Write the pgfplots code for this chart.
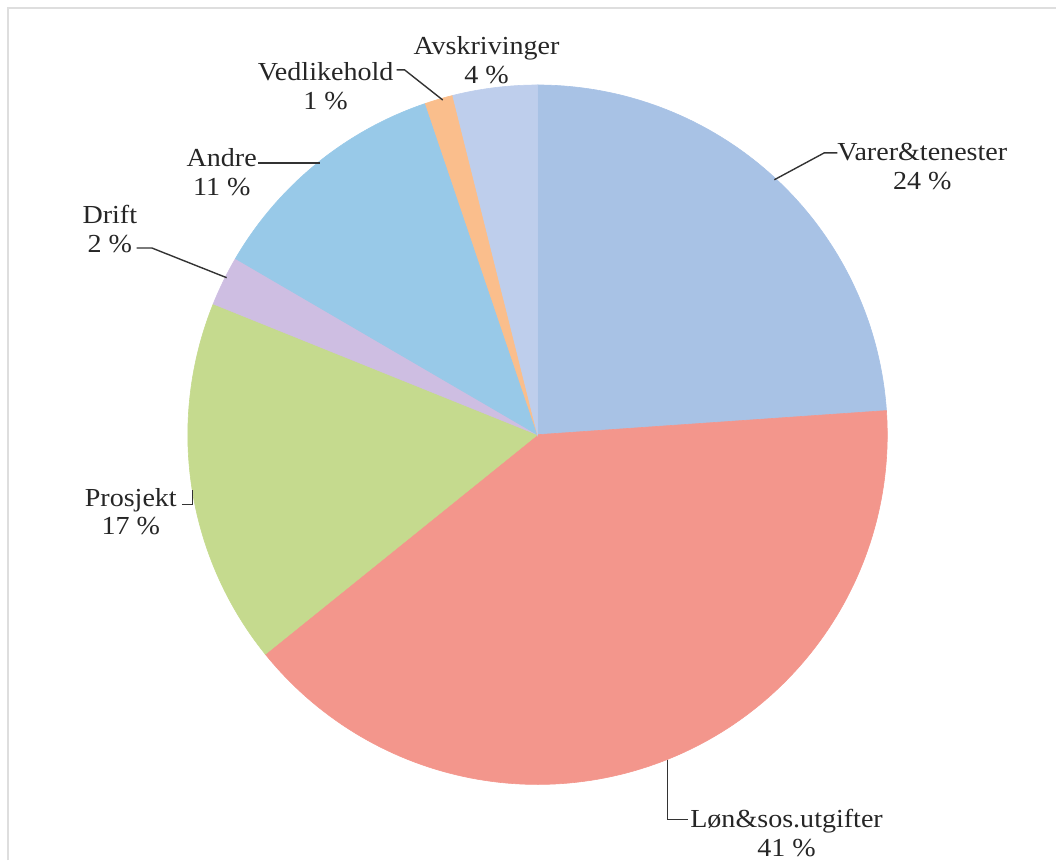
\documentclass[border=0pt]{standalone}
\usepackage{fontspec}
\setmainfont{Liberation Serif}[FakeStretch=1.08]
\usepackage{pgfplots}
\pgfplotsset{compat=1.18}
\definecolor{cVarer}{RGB}{168,194,229}
\definecolor{cLon}{RGB}{243,150,140}
\definecolor{cProsjekt}{RGB}{197,218,142}
\definecolor{cDrift}{RGB}{206,190,226}
\definecolor{cAndre}{RGB}{152,201,232}
\definecolor{cVedl}{RGB}{250,190,140}
\definecolor{cAvskr}{RGB}{190,206,236}
\definecolor{frame}{RGB}{222,222,222}
\tikzset{lbl/.style={font=\fontsize{13}{14.5}\selectfont, text=black!85, align=center, inner sep=0pt}}
% shares in percent, clockwise from 12 o'clock
\def\pVarer{23.9}
\def\pLon{40.3}
\def\pProsjekt{16.9}
\def\pDrift{2.3}
\def\pAndre{11.4}
\def\pVedl{1.3}
\def\pAvskr{3.9}
\pgfmathsetmacro\aA{90-3.6*\pVarer}
\pgfmathsetmacro\aB{\aA-3.6*\pLon}
\pgfmathsetmacro\aC{\aB-3.6*\pProsjekt}
\pgfmathsetmacro\aD{\aC-3.6*\pDrift}
\pgfmathsetmacro\aE{\aD-3.6*\pAndre}
\pgfmathsetmacro\aF{\aE-3.6*\pVedl}
\pgfmathsetmacro\aG{\aF-3.6*\pAvskr}
\begin{document}
\begin{tikzpicture}
\begin{axis}[
  scale only axis, width=528.5pt, height=430.5pt,
  xmin=-1.537, xmax=1.483, ymin=-1.217, ymax=1.243,
  hide axis, clip=false,
]
\path (rel axis cs:0,0) rectangle (rel axis cs:1,1);
\addplot[frame, line width=0.8pt] coordinates {(-1.514,-1.217) (-1.514,1.22) (1.483,1.22)};
\addplot[fill=cVarer, draw=cVarer, line width=0.3pt, domain=\aA:90, samples=80, variable=\t] ({cos(\t)},{sin(\t)}) -- (axis cs:0,0) -- cycle;
\addplot[fill=cLon, draw=cLon, line width=0.3pt, domain=\aB:\aA, samples=120, variable=\t] ({cos(\t)},{sin(\t)}) -- (axis cs:0,0) -- cycle;
\addplot[fill=cProsjekt, draw=cProsjekt, line width=0.3pt, domain=\aC:\aB, samples=60, variable=\t] ({cos(\t)},{sin(\t)}) -- (axis cs:0,0) -- cycle;
\addplot[fill=cDrift, draw=cDrift, line width=0.3pt, domain=\aD:\aC, samples=15, variable=\t] ({cos(\t)},{sin(\t)}) -- (axis cs:0,0) -- cycle;
\addplot[fill=cAndre, draw=cAndre, line width=0.3pt, domain=\aE:\aD, samples=50, variable=\t] ({cos(\t)},{sin(\t)}) -- (axis cs:0,0) -- cycle;
\addplot[fill=cVedl, draw=cVedl, line width=0.3pt, domain=\aF:\aE, samples=10, variable=\t] ({cos(\t)},{sin(\t)}) -- (axis cs:0,0) -- cycle;
\addplot[fill=cAvskr, draw=cAvskr, line width=0.3pt, domain=\aG:\aF, samples=20, variable=\t] ({cos(\t)},{sin(\t)}) -- (axis cs:0,0) -- cycle;
% leader lines
\addplot[black!80, line width=0.7pt] coordinates {(-0.403,1.043) (-0.380,1.043) (-0.271,0.957)};
\addplot[black!80, line width=0.7pt] coordinates {(-0.80,0.777) (-0.623,0.777)};
\addplot[black!80, line width=0.7pt] coordinates {(-1.146,0.534) (-1.103,0.534) (-0.889,0.449)};
\addplot[black!80, line width=0.7pt] coordinates {(-1.017,-0.20) (-0.986,-0.20) (-0.986,-0.157)};
\addplot[black!80, line width=0.7pt] coordinates {(0.371,-0.929) (0.371,-1.10) (0.429,-1.10)};
\addplot[black!80, line width=0.7pt] coordinates {(0.857,0.806) (0.820,0.806) (0.677,0.729)};
% labels
\node[lbl] at (axis cs:-0.146,1.071) {Avskrivinger\\4 \%};
\node[lbl] at (axis cs:-0.606,0.997) {Vedlikehold\\1 \%};
\node[lbl] at (axis cs:-0.903,0.751) {Andre\\11 \%};
\node[lbl] at (axis cs:-1.223,0.589) {Drift\\2 \%};
\node[lbl] at (axis cs:-1.163,-0.22) {Prosjekt\\17 \%};
\node[lbl] at (axis cs:0.712,-1.14) {Løn\&sos.utgifter\\41 \%};
\node[lbl] at (axis cs:1.100,0.766) {Varer\&tenester\\24 \%};
\end{axis}
\end{tikzpicture}
\end{document}
